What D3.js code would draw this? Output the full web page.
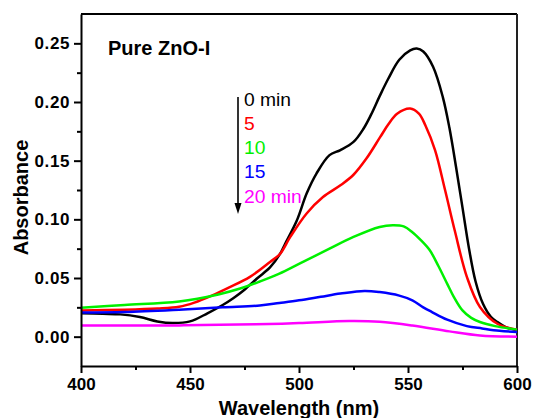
<!DOCTYPE html>
<html><head><meta charset="utf-8">
<script src="https://cdn.jsdelivr.net/npm/d3@7/dist/d3.min.js"></script>
<style>
html,body{margin:0;padding:0;background:#fff;}
svg{display:block;}
text{font-family:"Liberation Sans",Arial,sans-serif;}
</style></head>
<body>
<svg id="chart" width="533" height="418"></svg>
<script>
// ---- data ----
const xTicks = [400, 450, 500, 550, 600];
const yTicks = [0.00, 0.05, 0.10, 0.15, 0.20, 0.25];
const seriesNames = ["0 min", "5", "10", "15", "20 min"];
const seriesColors = ["#000000", "#ff0000", "#00f000", "#0000ff", "#ff00ff"];

const nm0  = [400,410,418,427,435,442,450,458,465,470,475,481,486.7,491.3,493.6,499,503.5,508,514,519,525,529.5,533,537,541,546,551,554,557,561.5,566,569,572,575,578,581,584.4,588,591,595,600];
const abs0 = [0.020,0.0195,0.019,0.0167,0.013,0.0116,0.013,0.0199,0.027,0.033,0.040,0.050,0.059,0.0705,0.079,0.099,0.122,0.139,0.1547,0.159,0.166,0.177,0.189,0.205,0.220,0.236,0.244,0.2455,0.243,0.230,0.204,0.178,0.145,0.110,0.075,0.047,0.028,0.017,0.0125,0.008,0.0054];

const nm5  = [400,420,435,445,452,460,468,477.5,486.7,491.3,496,503.5,511,519,525,531,537.2,541,545,551,555,558,562.4,567,571.5,577,583,591,600];
const abs5 = [0.0224,0.023,0.024,0.0255,0.029,0.035,0.042,0.051,0.0637,0.0705,0.085,0.105,0.119,0.129,0.138,0.152,0.170,0.181,0.190,0.1945,0.190,0.180,0.159,0.125,0.090,0.051,0.0253,0.011,0.006];

const nm10  = [400,420,445,463,473,482,491,500,514,525,537,543,548,552,556,560,564,568,571,575,579,583,590,600];
const abs10 = [0.0247,0.027,0.030,0.036,0.041,0.047,0.0537,0.062,0.075,0.085,0.0935,0.095,0.094,0.089,0.082,0.0736,0.060,0.045,0.034,0.0224,0.016,0.0125,0.009,0.006];

const nm15  = [400,420,445,465,482,491,500,510,519,530,537,546,552,557,561,568,577,584,592,600];
const abs15 = [0.0205,0.021,0.023,0.025,0.0265,0.0287,0.031,0.034,0.0367,0.039,0.038,0.035,0.031,0.025,0.021,0.0145,0.009,0.007,0.005,0.004];

const nm20  = [400,445,480,500,523,537,552,569,583,600];
const abs20 = [0.0096,0.0096,0.0105,0.0116,0.0133,0.0127,0.0095,0.0045,0.001,0.000];

const seriesX = [nm0, nm5, nm10, nm15, nm20];
const seriesY = [abs0, abs5, abs10, abs15, abs20];

// ---- layout ----
const svg = d3.select("#chart");
const L = 81, R = 517, T = 14, B = 366;
const x = d3.scaleLinear().domain([400, 600]).range([L, R]);
const y = d3.scaleLinear().domain([-0.025, 0.275]).range([B, T]);

// frame (top and right)
svg.append("line").attr("x1", L).attr("x2", R).attr("y1", T).attr("y2", T)
  .attr("stroke", "#000").attr("stroke-width", 2);
svg.append("line").attr("x1", R).attr("x2", R).attr("y1", T).attr("y2", B)
  .attr("stroke", "#222").attr("stroke-width", 2);

// curves
const line = d3.line().curve(d3.curveCatmullRom.alpha(0.5));
seriesX.forEach((xs, i) => {
  const pts = xs.map((v, j) => [x(v), y(seriesY[i][j])]);
  svg.append("path").attr("d", line(pts)).attr("fill", "none")
    .attr("stroke", seriesColors[i]).attr("stroke-width", 2.5)
    .attr("stroke-linejoin", "round");
});

// minor ticks
const xMinor = d3.range(425, 600, 50);
const yMinor = d3.range(-0.025, 0.27, 0.05).map(v => +v.toFixed(3));
svg.append("g").attr("transform", `translate(0,${B})`)
  .call(d3.axisBottom(x).tickValues(xMinor).tickSize(4).tickFormat(""))
  .call(g => g.select(".domain").remove())
  .call(g => g.selectAll("line").attr("stroke-width", 2));
svg.append("g").attr("transform", `translate(${L},0)`)
  .call(d3.axisLeft(y).tickValues(yMinor.filter(v => v > -0.02)).tickSize(4).tickFormat(""))
  .call(g => g.select(".domain").remove())
  .call(g => g.selectAll("line").attr("stroke-width", 2));

// major axes
const xAxis = svg.append("g").attr("transform", `translate(0,${B})`)
  .call(d3.axisBottom(x).tickValues(xTicks).tickSize(7).tickSizeOuter(0).tickPadding(5).tickFormat(d3.format("d")));
const yAxis = svg.append("g").attr("transform", `translate(${L},0)`)
  .call(d3.axisLeft(y).tickValues(yTicks).tickSize(7).tickSizeOuter(0).tickPadding(4).tickFormat(d3.format(".2f")));
[xAxis, yAxis].forEach(g => {
  g.select(".domain").attr("stroke-width", 2);
  g.selectAll("line").attr("stroke-width", 2);
  g.selectAll("text").attr("font-size", 17).attr("font-weight", "bold")
    .attr("font-family", "Liberation Sans, Arial, sans-serif").attr("fill", "#000");
});
yAxis.selectAll("text").attr("letter-spacing", 0.6);

// axis titles
svg.append("text").attr("x", 299).attr("y", 414.5).attr("text-anchor", "middle")
  .attr("font-size", 20).attr("font-weight", "bold").text("Wavelength (nm)");
svg.append("text").attr("transform", "translate(28,197.5) rotate(-90)")
  .attr("text-anchor", "middle").attr("font-size", 20).attr("font-weight", "bold")
  .text("Absorbance");

// sample label
svg.append("text").attr("x", 108).attr("y", 55)
  .attr("font-size", 20).attr("font-weight", "bold").text("Pure ZnO-I");

// legend with arrow
svg.append("line").attr("x1", 238).attr("x2", 238).attr("y1", 97).attr("y2", 205)
  .attr("stroke", "#000").attr("stroke-width", 1.6);
svg.append("path").attr("d", "M234.5,203 L241.5,203 L238,214 Z").attr("fill", "#000");
seriesNames.forEach((n, i) => {
  svg.append("text").attr("transform", `translate(244,${105.7 + i * 24.25}) scale(1.07,1)`)
    .attr("font-size", 18).attr("fill", seriesColors[i]).text(n);
});
</script>
</body></html>
